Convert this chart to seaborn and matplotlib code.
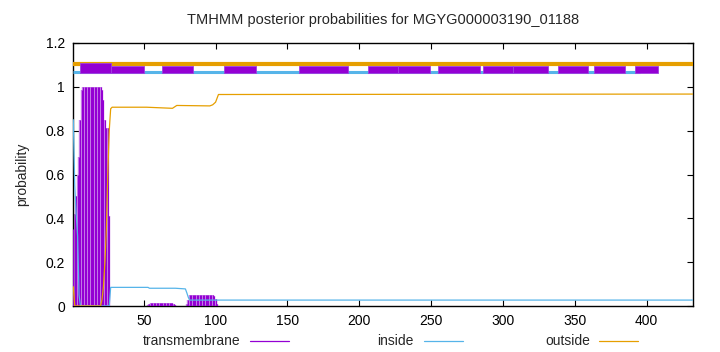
import matplotlib
matplotlib.use("Agg")
import matplotlib.pyplot as plt
from matplotlib.lines import Line2D
import seaborn as sns
import pandas as pd

# ---------------- data ----------------
title = "TMHMM posterior probabilities for MGYG000003190_01188"
seq_len = 432

# transmembrane posterior (impulses)
tm_residue = list(range(1, 27)) + list(range(53, 73)) + list(range(80, 102))
tm_prob = ([0.35, 0.42, 0.50, 0.60, 0.68, 0.85, 0.985,
            1.0, 1.0, 1.0, 1.0, 1.0, 1.0, 1.0, 1.0, 1.0, 1.0, 1.0, 1.0, 1.0,
            0.985, 0.94, 0.85, 0.81, 0.81, 0.41]
           + [0.005, 0.01, 0.013, 0.013, 0.013, 0.013, 0.013, 0.013, 0.013, 0.013,
              0.013, 0.013, 0.013, 0.013, 0.013, 0.013, 0.013, 0.013, 0.01, 0.005]
           + [0.01, 0.027, 0.05, 0.05, 0.05, 0.05, 0.05, 0.05, 0.05, 0.05, 0.05,
              0.05, 0.05, 0.05, 0.05, 0.05, 0.05, 0.05, 0.05, 0.045, 0.03, 0.01])

# inside posterior (line)
inside_residue = [1, 2, 3, 4, 5, 6, 26, 27, 53, 54, 72, 79, 80, 81, 82, 432]
inside_prob = [0.85, 0.55, 0.42, 0.32, 0.05, 0.0, 0.0, 0.085, 0.085, 0.081,
               0.081, 0.078, 0.06, 0.04, 0.027, 0.027]

# outside posterior (line)
outside_residue = [1, 2, 20, 21, 22, 23, 24, 25, 26, 27, 28, 52, 70, 73, 96, 98,
                   100, 102, 432]
outside_prob = [0.088, 0.0, 0.0, 0.03, 0.09, 0.2, 0.35, 0.6, 0.8, 0.9, 0.907,
                0.907, 0.902, 0.915, 0.913, 0.918, 0.93, 0.965, 0.967]

# predicted topology strip
tm_seg_start = [6, 27, 63, 106, 158, 206, 227, 255, 286, 307, 338, 363, 392]
tm_seg_end = [27, 50, 84, 128, 192, 227, 249, 284, 307, 331, 359, 385, 408]
inside_strip = [1, 395]
outside_strip = [1, 432]

xticks = [50, 100, 150, 200, 250, 300, 350, 400]
yticks = [0, 0.2, 0.4, 0.6, 0.8, 1.0, 1.2]
ytick_labels = ["0", "0.2", "0.4", "0.6", "0.8", "1", "1.2"]
legend_labels = ["transmembrane", "inside", "outside"]

# ---------------- style ----------------
PURPLE = "#9400d3"
CYAN = "#56b4e9"
ORANGE = "#e69f00"

sns.set_style("white")
plt.rcParams["font.family"] = ["Liberation Sans", "DejaVu Sans"]

W, H = 720, 352
fig = plt.figure(figsize=(W / 100, H / 100), dpi=100)
ax = fig.add_axes([73.3 / W, 1 - 306 / H, (692.7 - 73.3) / W, (306 - 43) / H])

# impulses: light wide layer + dark thin layer gives the striped look
ax.vlines(tm_residue, 0, tm_prob, color="#c47ce8", lw=1.7, zorder=2)
ax.vlines(tm_residue, 0, tm_prob, color=PURPLE, lw=0.75, zorder=3)

df_in = pd.DataFrame({"residue": inside_residue, "prob": inside_prob})
df_out = pd.DataFrame({"residue": outside_residue, "prob": outside_prob})
sns.lineplot(data=df_in, x="residue", y="prob", ax=ax, color=CYAN, lw=0.9,
             estimator=None, zorder=4)
sns.lineplot(data=df_out, x="residue", y="prob", ax=ax, color=ORANGE, lw=0.9,
             estimator=None, zorder=4)

# topology strip
ax.plot(inside_strip, [1.067, 1.067], color=CYAN, lw=2.2, solid_capstyle="butt", zorder=3)
ax.plot(outside_strip, [1.105, 1.105], color=ORANGE, lw=3.0, solid_capstyle="butt", zorder=4)
for i, (s, e) in enumerate(zip(tm_seg_start, tm_seg_end)):
    top = 1.107 if i == 0 else 1.094
    ax.fill_between([s, e], 1.062, top, color=PURPLE, edgecolor="#a040e0",
                    lw=0.6, zorder=5)

ax.set_xlim(1, seq_len)
ax.set_ylim(0, 1.2)
ax.set_xticks(xticks)
ax.set_xticklabels([str(t) for t in xticks])
ax.set_yticks(yticks)
ax.set_yticklabels(ytick_labels)
ax.tick_params(direction="in", length=4, width=0.8, labelsize=10, colors="black",
               top=True, right=True, bottom=True, left=True, pad=6)
ax.set_xlabel("")
ax.set_ylabel("probability", fontsize=10, labelpad=12)
for sp in ax.spines.values():
    sp.set_visible(True)
    sp.set_color("black")
    sp.set_linewidth(1.0)

fig.text(383 / W, 1 - 20 / H, title, ha="center", va="center", fontsize=10.5)

# legend below
leg_y = 1 - 341 / H
leg_items = [(240, 250, 289, PURPLE), (414, 424, 463, CYAN), (590, 599, 638, ORANGE)]
for lab, (tx, x0, x1, col) in zip(legend_labels, leg_items):
    fig.text(tx / W, leg_y, lab, ha="right", va="center", fontsize=10)
    fig.add_artist(Line2D([x0 / W, x1 / W], [leg_y, leg_y], color=col, lw=0.9))

fig.savefig("out.png", dpi=100)
